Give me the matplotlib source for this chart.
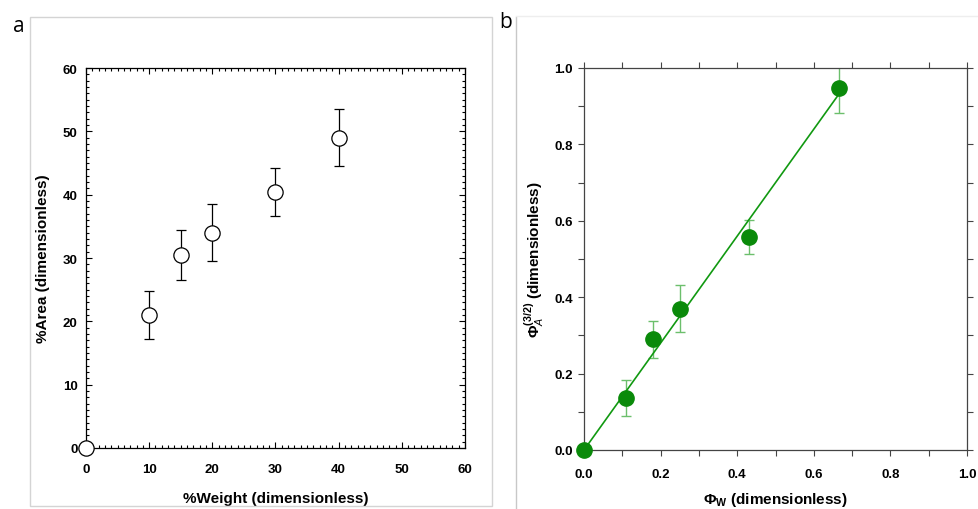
import numpy as np
import matplotlib.pyplot as plt
from matplotlib.lines import Line2D
from matplotlib.patches import Rectangle
from matplotlib.ticker import MultipleLocator

plt.rcParams['font.family'] = ['Liberation Sans', 'DejaVu Sans']
plt.rcParams['mathtext.fontset'] = 'custom'
plt.rcParams['mathtext.rm'] = 'Liberation Sans:bold'
plt.rcParams['mathtext.it'] = 'Liberation Sans:italic'
plt.rcParams['mathtext.bf'] = 'Liberation Sans:bold'

# panel a data
weight_pct = [0, 10, 15, 20, 30, 40]
area_pct = [0, 21.0, 30.5, 34.0, 40.4, 49.0]
area_err = [0, 3.8, 3.9, 4.5, 3.8, 4.5]

# panel b data
phi_w = [0, 0.11, 0.18, 0.25, 0.43, 0.667]
phi_a = [0, 0.137, 0.29, 0.37, 0.558, 0.947]
phi_a_err = [0, 0.047, 0.049, 0.062, 0.045, 0.064]

fig = plt.figure(figsize=(9.79, 5.10), dpi=100)

# panel frames
fig.patches.append(Rectangle((30.5 / 979, 1 - 507 / 510), 461 / 979, 489 / 510,
                             transform=fig.transFigure, fill=False,
                             edgecolor='#d4d4d4', linewidth=1.0))
fig.lines.append(Line2D([516 / 979, 516 / 979], [0, 1 - 18 / 510],
                        transform=fig.transFigure, color='#c8c8c8', linewidth=1.0))
fig.lines.append(Line2D([516 / 979, 1], [1 - 17 / 510, 1 - 17 / 510],
                        transform=fig.transFigure, color='#eeeeee', linewidth=1.0))

fig.text(19 / 979, 1 - 27 / 510, 'a', fontsize=15, family='Open Sans',
         ha='center', va='center')
fig.text(506 / 979, 1 - 22 / 510, 'b', fontsize=15, family='Open Sans',
         ha='center', va='center')

# -----------------------------
# Panel a
# -----------------------------
ax1 = fig.add_axes([86 / 979, 61 / 510, 379 / 979, 380 / 510])
ax1.errorbar(weight_pct, area_pct, yerr=area_err, fmt='o', ms=11,
             mfc='white', mec='black', mew=0.9, ecolor='black',
             elinewidth=0.9, capsize=3.6, capthick=0.9, clip_on=False, zorder=3)
ax1.set_xlim(0, 60)
ax1.set_ylim(0, 60)
ax1.xaxis.set_major_locator(MultipleLocator(10))
ax1.yaxis.set_major_locator(MultipleLocator(10))
ax1.xaxis.set_minor_locator(MultipleLocator(1))
ax1.yaxis.set_minor_locator(MultipleLocator(1))
ax1.tick_params(which='both', direction='in', top=True, right=True,
                width=0.8, labelsize=9.5)
ax1.tick_params(which='major', length=4, pad=6)
ax1.tick_params(axis='x', which='major', pad=11)
ax1.tick_params(which='minor', length=2.5)
for lab in ax1.get_xticklabels() + ax1.get_yticklabels():
    lab.set_fontweight('bold')
for s in ax1.spines.values():
    s.set_linewidth(0.9)
ax1.set_xlabel('%Weight (dimensionless)', fontsize=11, fontweight='bold',
               labelpad=11)
ax1.set_ylabel('%Area (dimensionless)', fontsize=11, fontweight='bold',
               labelpad=9)

# -----------------------------
# Panel b
# -----------------------------
ax2 = fig.add_axes([584 / 979, 59 / 510, 383 / 979, 382 / 510])
green = '#0a8a0a'
slope = np.sum(np.array(phi_w) * np.array(phi_a)) / np.sum(np.array(phi_w) ** 2)
xfit = np.array([0, max(phi_w)])
ax2.plot(xfit, slope * xfit, color='#119911', linewidth=1.2, zorder=2)
ax2.errorbar(phi_w, phi_a, yerr=phi_a_err, fmt='none', ecolor='#6cbf6c',
             elinewidth=1.0, capsize=3.6, capthick=1.0, zorder=1)
ax2.plot(phi_w, phi_a, 'o', ms=11, color=green, clip_on=False, zorder=3)
ax2.set_xlim(0, 1)
ax2.set_ylim(0, 1)
ax2.xaxis.set_major_locator(MultipleLocator(0.2))
ax2.yaxis.set_major_locator(MultipleLocator(0.2))
ax2.xaxis.set_minor_locator(MultipleLocator(0.1))
ax2.yaxis.set_minor_locator(MultipleLocator(0.1))
ax2.xaxis.set_major_formatter(lambda v, p: f'{v:.1f}')
ax2.yaxis.set_major_formatter(lambda v, p: f'{v:.1f}')
ax2.tick_params(which='both', direction='out', top=True, right=True,
                width=0.8, length=4, labelsize=9.5, color='#444444')
ax2.tick_params(which='major', pad=4)
ax2.tick_params(axis='x', which='major', pad=9)
for lab in ax2.get_xticklabels() + ax2.get_yticklabels():
    lab.set_fontweight('bold')
for s in ax2.spines.values():
    s.set_linewidth(0.9)
    s.set_color('#444444')
ax2.set_xlabel(r'$\mathbf{\Phi_{W}}$ (dimensionless)', fontsize=11,
               fontweight='bold', labelpad=7)
ax2.set_ylabel(r'$\Phi_{A}^{(3/2)}$ (dimensionless)', fontsize=11,
               fontweight='bold', labelpad=6)

fig.savefig('out.png', dpi=100)
